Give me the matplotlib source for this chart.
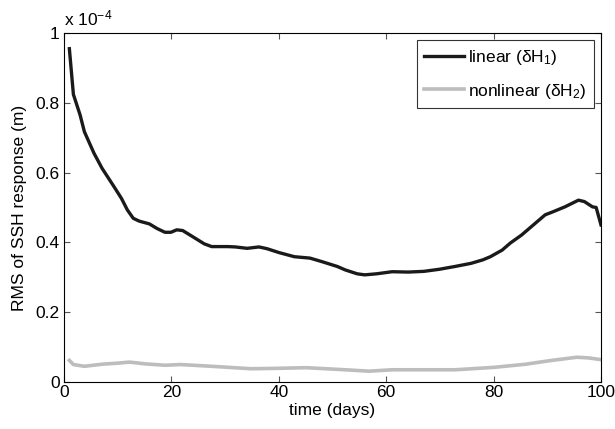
import matplotlib
matplotlib.use("Agg")
import matplotlib.pyplot as plt

plt.rcParams['font.family'] = ['Liberation Sans', 'DejaVu Sans']
plt.rcParams['mathtext.fontset'] = 'custom'
plt.rcParams['mathtext.rm'] = 'Liberation Sans'
plt.rcParams['mathtext.it'] = 'Liberation Sans'

# data in units of 1e-4 m
lin_x = [1, 1.75, 3, 3.8, 5.6, 7.1, 9.3, 10.7, 11.8, 12.9, 14, 15.9, 17.3, 18.8, 19.9,
         21, 22.1, 23.9, 26.1, 27.5, 30.5, 31.9, 34.1, 36.3, 37.8, 40, 42.9, 45.8, 48,
         50.9, 52.4, 54.6, 56, 58.2, 61.1, 64.1, 67, 69.9, 72.8, 75.8, 78, 79.4, 81.6,
         83.1, 85.2, 87.4, 89.6, 91.1, 93.3, 95.8, 96.9, 98.4, 99.1, 100]
lin_y = [0.955, 0.824, 0.765, 0.717, 0.655, 0.612, 0.56, 0.526, 0.493, 0.469, 0.461,
         0.453, 0.44, 0.429, 0.429, 0.436, 0.434, 0.417, 0.396, 0.388, 0.388, 0.387,
         0.383, 0.387, 0.382, 0.371, 0.359, 0.355, 0.345, 0.331, 0.321, 0.31, 0.307,
         0.31, 0.316, 0.315, 0.317, 0.323, 0.331, 0.34, 0.35, 0.359, 0.378, 0.398,
         0.421, 0.45, 0.479, 0.488, 0.502, 0.521, 0.517, 0.502, 0.5, 0.45]
nl_x = [1, 1.75, 3.8, 7.1, 10, 12.2, 15.1, 18.8, 21.7, 27.5, 34.8, 39.2, 45.1, 52.4,
        56.8, 61.1, 68.4, 72.8, 80.1, 86, 90.4, 95.5, 97.7, 100]
nl_y = [0.062, 0.05, 0.045, 0.051, 0.054, 0.057, 0.052, 0.048, 0.05, 0.045, 0.038,
        0.039, 0.041, 0.035, 0.031, 0.035, 0.035, 0.035, 0.042, 0.051, 0.061, 0.071,
        0.069, 0.064]

x_ticks = [0, 20, 40, 60, 80, 100]
y_ticks = [0, 0.2, 0.4, 0.6, 0.8, 1]
y_tick_labels = ['0', '0.2', '0.4', '0.6', '0.8', '1']
x_tick_labels = ['0', '20', '40', '60', '80', '100']

fig = plt.figure(figsize=(6.15, 4.29), dpi=100)
ax = fig.add_axes([64/615, 1-382/429, (601-64)/615, (382-33)/429])

ax.plot(lin_x, lin_y, color='#1a1a1a', lw=2.4, label='linear (δH$_1$)')
ax.plot(nl_x, nl_y, color='#bdbdbd', lw=2.6, label='nonlinear (δH$_2$)')

ax.set_xlim(0, 100)
ax.set_ylim(0, 1)
ax.set_xticks(x_ticks)
ax.set_xticklabels(x_tick_labels)
ax.set_yticks(y_ticks)
ax.set_yticklabels(y_tick_labels)
ax.tick_params(direction='in', top=True, right=True, length=4, labelsize=12.5,
               color='#555555', width=0.8)
ax.tick_params(axis='x', pad=2)
ax.tick_params(axis='y', pad=3)
for s in ax.spines.values():
    s.set_linewidth(0.8)
ax.set_xlabel('time (days)', fontsize=12.5, labelpad=2)
ax.set_ylabel('RMS of SSH response (m)', fontsize=12.5, labelpad=6)
ax.text(0.0, 1.012, 'x 10$^{-4}$', transform=ax.transAxes, fontsize=12.5,
        ha='left', va='bottom')

leg = ax.legend(loc='upper right', fontsize=12.5, frameon=True, fancybox=False,
                edgecolor='black', handlelength=2.3, handletextpad=0.2,
                borderaxespad=0.4, labelspacing=0.85, borderpad=0.45)
leg.get_frame().set_linewidth(0.8)

fig.savefig('out.png', dpi=100)
